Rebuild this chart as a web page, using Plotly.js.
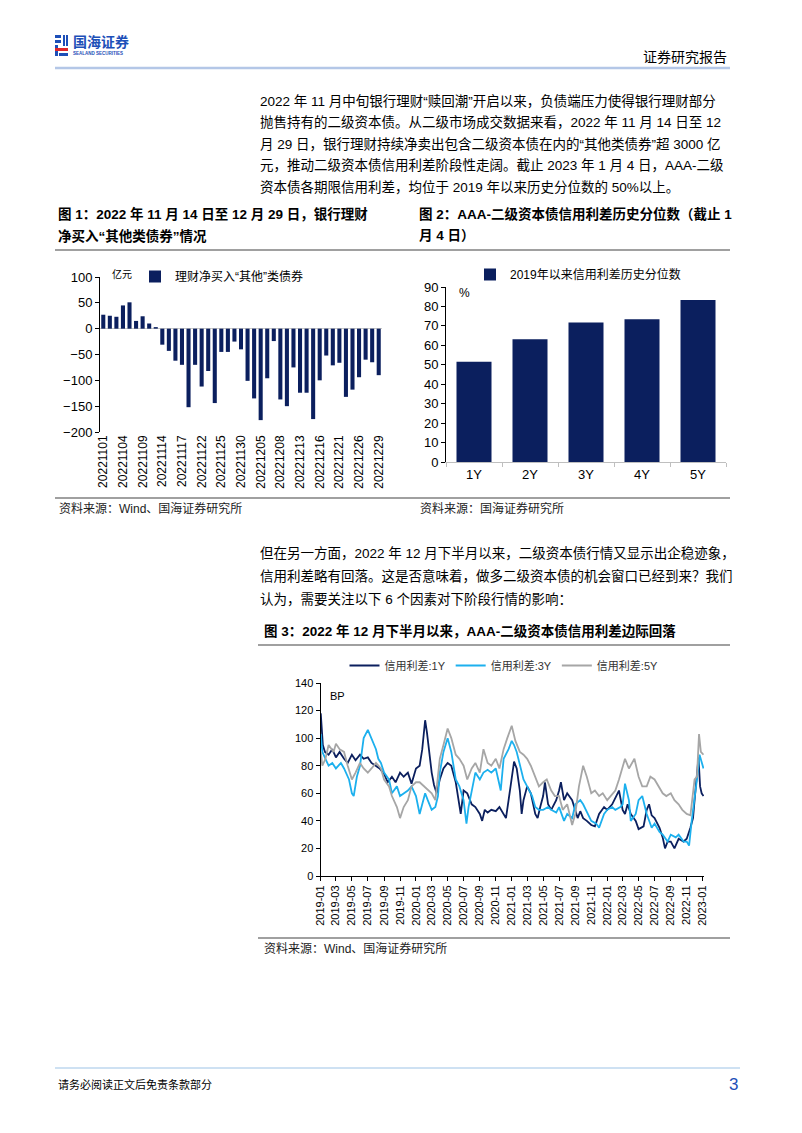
<!DOCTYPE html>
<html><head><meta charset="utf-8">
<script src="https://cdn.plot.ly/plotly-3.0.1.min.js"></script>
<style>html,body{margin:0;padding:0;background:#fff;}#page{width:802px;height:1133px;}</style>
</head><body><div id="page"></div>
<script>
// ---------- Chart 1 data ----------
const dates1 = ['20221101','20221102','20221103','20221104','20221107','20221108','20221109','20221110','20221111','20221114','20221115','20221116','20221117','20221118','20221121','20221122','20221123','20221124','20221125','20221128','20221129','20221130','20221201','20221202','20221205','20221206','20221207','20221208','20221209','20221212','20221213','20221214','20221215','20221216','20221219','20221220','20221221','20221222','20221223','20221226','20221227','20221228','20221229'];
const netBuy = [27,25,23,45,51,15,24,10,3,-31,-43,-62,-70,-152,-70,-112,-82,-144,-45,-45,-25,-40,-101,-135,-177,-96,-24,-137,-150,-75,-124,-124,-175,-100,-52,-71,-66,-132,-118,-94,-60,-65,-90];
const tickLabels1 = ['20221101','20221104','20221109','20221114','20221117','20221122','20221125','20221130','20221205','20221208','20221213','20221216','20221221','20221226','20221229'];
const name1 = '理财净买入“其他”类债券';

// ---------- Chart 2 data ----------
const tenors2 = ['1Y','2Y','3Y','4Y','5Y'];
const pct2 = [51.6,63.1,71.8,73.4,83.3];
const name2 = '2019年以来信用利差历史分位数';

// ---------- Chart 3 data ----------
const d1y = ['2019-01-02','2019-01-04','2019-01-10','2019-01-18','2019-02-01','2019-02-15','2019-03-01','2019-03-15','2019-04-01','2019-04-15','2019-05-01','2019-05-15','2019-06-01','2019-06-15','2019-07-01','2019-07-15','2019-08-01','2019-08-15','2019-09-01','2019-09-15','2019-10-01','2019-10-15','2019-11-01','2019-11-15','2019-12-01','2019-12-15','2020-01-01','2020-01-15','2020-01-25','2020-02-05','2020-02-12','2020-02-20','2020-03-01','2020-03-10','2020-03-20','2020-04-01','2020-04-15','2020-05-01','2020-05-15','2020-06-01','2020-06-10','2020-06-20','2020-07-01','2020-07-15','2020-08-01','2020-08-15','2020-09-01','2020-09-10','2020-09-20','2020-10-01','2020-10-15','2020-11-01','2020-11-15','2020-12-01','2020-12-10','2020-12-20','2021-01-01','2021-01-10','2021-01-20','2021-02-01','2021-02-08','2021-02-15','2021-03-01','2021-03-15','2021-04-01','2021-04-10','2021-04-20','2021-05-01','2021-05-08','2021-05-20','2021-06-01','2021-06-20','2021-07-01','2021-07-08','2021-07-20','2021-08-01','2021-08-20','2021-09-01','2021-09-10','2021-09-20','2021-10-01','2021-10-15','2021-11-01','2021-11-15','2021-12-01','2021-12-20','2022-01-01','2022-01-20','2022-02-01','2022-02-15','2022-03-01','2022-03-10','2022-03-20','2022-04-01','2022-04-20','2022-05-01','2022-05-20','2022-06-01','2022-06-10','2022-06-20','2022-07-01','2022-07-20','2022-08-01','2022-08-10','2022-08-20','2022-09-01','2022-09-15','2022-09-25','2022-10-01','2022-10-20','2022-11-01','2022-11-15','2022-11-25','2022-12-01','2022-12-10','2022-12-16','2022-12-22','2022-12-28','2023-01-04'];
const v1y = [118,112,95,90,88,92,86,90,85,82,88,84,88,85,86,82,80,78,74,68,72,68,75,72,75,67,78,80,92,113,104,92,75,66,60,70,78,82,80,68,58,45,62,60,52,50,45,40,48,46,48,47,50,45,42,55,72,83,78,62,45,55,65,60,45,42,50,58,68,52,48,55,62,68,55,60,55,48,42,47,42,40,37,36,45,50,48,52,57,62,48,45,52,45,40,34,36,48,52,44,42,35,28,20,25,25,20,24,27,25,27,35,42,55,75,86,65,60,58];

const d3y = ['2019-01-02','2019-01-08','2019-01-20','2019-02-01','2019-02-15','2019-03-01','2019-03-20','2019-04-01','2019-04-20','2019-05-01','2019-05-08','2019-05-20','2019-06-01','2019-06-15','2019-07-01','2019-07-15','2019-08-01','2019-08-10','2019-08-20','2019-09-01','2019-09-20','2019-10-01','2019-10-20','2019-11-01','2019-11-15','2019-12-01','2019-12-15','2020-01-01','2020-01-15','2020-01-25','2020-02-05','2020-02-15','2020-03-01','2020-03-15','2020-03-25','2020-04-01','2020-04-15','2020-05-01','2020-05-15','2020-06-01','2020-06-15','2020-07-01','2020-07-12','2020-07-20','2020-08-01','2020-08-15','2020-09-01','2020-09-15','2020-10-01','2020-10-15','2020-11-01','2020-11-10','2020-11-20','2020-12-01','2020-12-20','2021-01-01','2021-01-10','2021-01-20','2021-02-01','2021-02-15','2021-03-01','2021-03-20','2021-04-01','2021-04-15','2021-05-01','2021-05-20','2021-06-01','2021-06-20','2021-07-01','2021-07-20','2021-08-01','2021-08-20','2021-09-01','2021-09-20','2021-10-01','2021-10-20','2021-11-01','2021-11-20','2021-12-01','2021-12-20','2022-01-01','2022-01-20','2022-02-01','2022-02-20','2022-03-01','2022-03-10','2022-03-25','2022-04-01','2022-04-20','2022-05-01','2022-05-15','2022-06-01','2022-06-20','2022-07-01','2022-07-20','2022-08-01','2022-08-20','2022-09-01','2022-09-20','2022-10-01','2022-10-20','2022-11-01','2022-11-10','2022-11-20','2022-12-01','2022-12-10','2022-12-20','2022-12-28','2023-01-04'];
const v3y = [103,90,85,80,82,78,82,78,70,60,58,72,80,100,106,100,92,85,82,75,70,60,65,58,60,62,65,58,45,52,60,55,48,50,58,75,90,100,90,70,65,55,38,50,62,75,70,75,77,75,78,70,62,85,92,98,95,90,80,70,65,58,50,48,48,50,48,46,50,40,45,42,52,55,52,45,40,38,35,45,48,50,48,50,52,67,55,40,45,55,58,45,35,38,32,30,25,30,28,30,25,25,22,40,55,70,88,82,78];

const d5y = ['2019-01-02','2019-01-08','2019-01-20','2019-02-01','2019-02-20','2019-03-01','2019-03-15','2019-04-01','2019-04-15','2019-05-01','2019-05-15','2019-06-01','2019-06-15','2019-07-01','2019-07-15','2019-08-01','2019-08-20','2019-09-01','2019-09-20','2019-10-01','2019-10-20','2019-11-01','2019-11-15','2019-12-01','2019-12-15','2020-01-01','2020-01-15','2020-02-01','2020-02-15','2020-03-01','2020-03-15','2020-04-01','2020-04-15','2020-05-01','2020-05-15','2020-06-01','2020-06-15','2020-07-01','2020-07-15','2020-08-01','2020-08-15','2020-09-01','2020-09-15','2020-10-01','2020-10-15','2020-11-01','2020-11-15','2020-12-01','2020-12-15','2021-01-01','2021-01-15','2021-02-01','2021-02-15','2021-03-01','2021-03-15','2021-04-01','2021-04-15','2021-05-01','2021-05-15','2021-06-01','2021-06-15','2021-07-01','2021-07-15','2021-08-01','2021-08-20','2021-09-01','2021-09-15','2021-10-01','2021-10-15','2021-11-01','2021-11-15','2021-12-01','2021-12-15','2022-01-01','2022-01-15','2022-02-01','2022-02-15','2022-03-01','2022-03-10','2022-03-25','2022-04-01','2022-04-15','2022-05-01','2022-05-15','2022-06-01','2022-06-15','2022-07-01','2022-07-15','2022-08-01','2022-08-15','2022-09-01','2022-09-15','2022-10-01','2022-10-15','2022-11-01','2022-11-15','2022-11-25','2022-12-01','2022-12-10','2022-12-18','2022-12-25','2023-01-04'];
const v5y = [90,80,85,95,90,96,92,90,80,70,75,82,78,75,78,82,78,70,65,58,50,42,50,55,65,68,68,65,62,60,55,85,95,107,100,88,85,80,70,78,82,75,92,82,80,85,78,92,100,109,98,90,88,85,80,72,65,68,70,62,58,58,48,52,37,45,65,80,72,60,62,58,60,55,58,62,70,80,85,78,80,85,72,65,65,72,70,65,60,58,60,55,52,48,45,44,60,70,72,103,90,88];
const names3 = ['信用利差:1Y','信用利差:3Y','信用利差:5Y'];

// ---------- Page text ----------
const para1 = [
 '2022 年 11 月中旬银行理财“赎回潮”开启以来，负债端压力使得银行理财部分',
 '抛售持有的二级资本债。从二级市场成交数据来看，2022 年 11 月 14 日至 12',
 '月 29 日，银行理财持续净卖出包含二级资本债在内的“其他类债券”超 3000 亿',
 '元，推动二级资本债信用利差阶段性走阔。截止 2023 年 1 月 4 日，AAA-二级',
 '资本债各期限信用利差，均位于 2019 年以来历史分位数的 50%以上。'];
const para2 = [
 '但在另一方面，2022 年 12 月下半月以来，二级资本债行情又显示出企稳迹象，',
 '信用利差略有回落。这是否意味着，做多二级资本债的机会窗口已经到来？我们',
 '认为，需要关注以下 6 个因素对下阶段行情的影响：'];
const fig1Title = ['图 1：2022 年 11 月 14 日至 12 月 29 日，银行理财','净买入“其他类债券”情况'];
const fig2Title = ['图 2：AAA-二级资本债信用利差历史分位数（截止 1','月 4 日）'];
const fig3Title = '图 3：2022 年 12 月下半月以来，AAA-二级资本债信用利差边际回落';
const src1 = '资料来源：Wind、国海证券研究所';
const src2 = '资料来源：国海证券研究所';
const src3 = '资料来源：Wind、国海证券研究所';

// ---------- helpers ----------
const W = 802, H = 1133;
const fx = x => x / W;
const fy = y => 1 - y / H;
const FONT = '"Liberation Sans", Arial, "Noto Sans CJK SC", sans-serif';
const NAVY = '#0b1f5e';

const ann = [];
function txt(x, y, text, size, opts) {
  opts = opts || {};
  ann.push({xref:'paper', yref:'paper', x:fx(x), y:fy(y), text:text, showarrow:false,
    xanchor: opts.anchor || 'left', yanchor:'middle',
    font:{family:FONT, size:size, color: opts.color || '#000'}});
}
const shp = [];
function hline(x0, x1, y, color, w) {
  shp.push({type:'line', xref:'paper', yref:'paper', x0:fx(x0), x1:fx(x1), y0:fy(y), y1:fy(y), line:{color:color, width:w}});
}
function rect(x0, y0, x1, y1, color) {
  shp.push({type:'rect', xref:'paper', yref:'paper', x0:fx(x0), x1:fx(x1), y0:fy(y0), y1:fy(y1), line:{width:0}, fillcolor:color});
}

// header
rect(55,35,61,38,'#1d4fb8'); rect(55,40,61,43,'#1d4fb8'); rect(55,45,58,56,'#1d4fb8');
rect(63,35,65,46,'#1d4fb8'); rect(66,35,68,46,'#1d4fb8');
rect(55,48,68,51,'#e0262b'); rect(59,53,68,56,'#1d4fb8');
txt(71, 42, '<b>国海证券</b>', 14, {color:'#1d4fb8'});
txt(71, 53, '<b>SEALAND SECURITIES</b>', 4.5, {color:'#1d4fb8'});
txt(729, 57, '证券研究报告', 14, {anchor:'right'});
hline(55, 730, 68, '#b4c7e7', 2.5);

// paragraph 1
const p1y = [101, 122.5, 144, 165.5, 187];
para1.forEach((t,i) => txt(258, p1y[i], t, 13.5));

// figure titles
txt(56, 214, '<b>'+fig1Title[0]+'</b>', 13.5);
txt(56, 236, '<b>'+fig1Title[1]+'</b>', 13.5);
txt(417, 214, '<b>'+fig2Title[0]+'</b>', 13.5);
txt(417, 236, '<b>'+fig2Title[1]+'</b>', 13.5);
hline(55, 730, 250, '#808080', 1.5);

// chart units
txt(110, 274, '亿元', 10);
txt(457, 293, '%', 12);
txt(328, 696, 'BP', 11);

// sources
hline(55, 730, 498, '#808080', 1.5);
txt(57, 508, src1, 12, {color:'#222'});
txt(418, 508, src2, 12, {color:'#222'});

// paragraph 2
const p2y = [553, 576, 599];
para2.forEach((t,i) => txt(258, p2y[i], t, 13.5));
txt(262, 631, '<b>'+fig3Title+'</b>', 13.5);
hline(258, 730, 645, '#808080', 1.5);
hline(258, 730, 938, '#808080', 1.5);
txt(262, 948, src3, 12, {color:'#222'});

// footer
hline(55, 740, 1068, '#9dc3e6', 1);
txt(56, 1084, '请务必阅读正文后免责条款部分', 11);
txt(740, 1084, '3', 17, {anchor:'right', color:'#1d4fb8'});

// ---------- traces ----------
const traces = [
  {type:'bar', x:dates1, y:netBuy, name:name1, marker:{color:NAVY}, width:0.62, xaxis:'x', yaxis:'y', legend:'legend'},
  {type:'bar', x:tenors2, y:pct2, name:name2, marker:{color:NAVY}, width:0.625, xaxis:'x2', yaxis:'y2', legend:'legend2'},
  {type:'scatter', mode:'lines', x:d1y, y:v1y, name:names3[0], line:{color:'#0b1f5e', width:1.8}, xaxis:'x3', yaxis:'y3', legend:'legend3'},
  {type:'scatter', mode:'lines', x:d3y, y:v3y, name:names3[1], line:{color:'#1cb0ee', width:1.8}, xaxis:'x3', yaxis:'y3', legend:'legend3'},
  {type:'scatter', mode:'lines', x:d5y, y:v5y, name:names3[2], line:{color:'#a6a6a6', width:1.8}, xaxis:'x3', yaxis:'y3', legend:'legend3'}
];

const axBase = {showgrid:false, zeroline:false, fixedrange:true, tickfont:{family:FONT, size:13, color:'#000'}};
const layout = {
  width:W, height:H, margin:{l:0,r:0,t:0,b:0}, paper_bgcolor:'#fff', plot_bgcolor:'rgba(0,0,0,0)',
  font:{family:FONT, color:'#000'}, showlegend:true,
  xaxis: Object.assign({}, axBase, {domain:[fx(100), fx(382)], anchor:'y', type:'category',
    tickvals:tickLabels1, ticktext:tickLabels1, tickangle:-90, ticks:'', showline:false, tickfont:{family:FONT,size:12,color:'#000'}}),
  yaxis: Object.assign({}, axBase, {domain:[fy(432), fy(277)], anchor:'x', range:[-200,100], dtick:50,
    showline:true, linecolor:'#000', linewidth:1, ticks:'outside', ticklen:4, tickcolor:'#000',
    zeroline:true, zerolinecolor:'#c8c8c8', zerolinewidth:1}),
  xaxis2: Object.assign({}, axBase, {domain:[fx(446), fx(726)], anchor:'y2', type:'category',
    showline:true, linecolor:'#bfbfbf', linewidth:1, ticks:'outside', tickson:'boundaries', ticklen:4, tickcolor:'#bfbfbf'}),
  yaxis2: Object.assign({}, axBase, {domain:[fy(462), fy(287)], anchor:'x2', range:[0,90], dtick:10,
    showline:true, linecolor:'#000', linewidth:1, ticks:'outside', ticklen:4, tickcolor:'#000'}),
  xaxis3: Object.assign({}, axBase, {domain:[fx(320.5), fx(704)], anchor:'y3', type:'date',
    range:['2019-01-01','2023-01-06'], tick0:'2019-01-01', dtick:'M2', tickformat:'%Y-%m', tickangle:-90,
    showline:true, linecolor:'#000', linewidth:1, ticks:'outside', ticklen:4, tickcolor:'#000',
    tickfont:{family:FONT,size:11,color:'#000'}}),
  yaxis3: Object.assign({}, axBase, {domain:[fy(876), fy(683)], anchor:'x3', range:[0,140], dtick:20,
    showline:true, linecolor:'#000', linewidth:1, ticks:'outside', ticklen:4, tickcolor:'#000',
    tickfont:{family:FONT,size:11,color:'#000'}}),
  legend: {x:fx(135), y:fy(262), xanchor:'left', yanchor:'top', bgcolor:'rgba(0,0,0,0)', font:{family:FONT,size:12,color:'#000'}, itemwidth:30},
  legend2: {x:fx(470), y:fy(260), xanchor:'left', yanchor:'top', bgcolor:'rgba(0,0,0,0)', font:{family:FONT,size:12,color:'#000'}, itemwidth:30},
  legend3: {x:fx(504), y:fy(651), xanchor:'center', yanchor:'top', orientation:'h', bgcolor:'rgba(0,0,0,0)', font:{family:FONT,size:11,color:'#333'}, itemwidth:30},
  annotations: ann, shapes: shp
};
Plotly.newPlot('page', traces, layout, {staticPlot:true, displayModeBar:false});
</script></body></html>
